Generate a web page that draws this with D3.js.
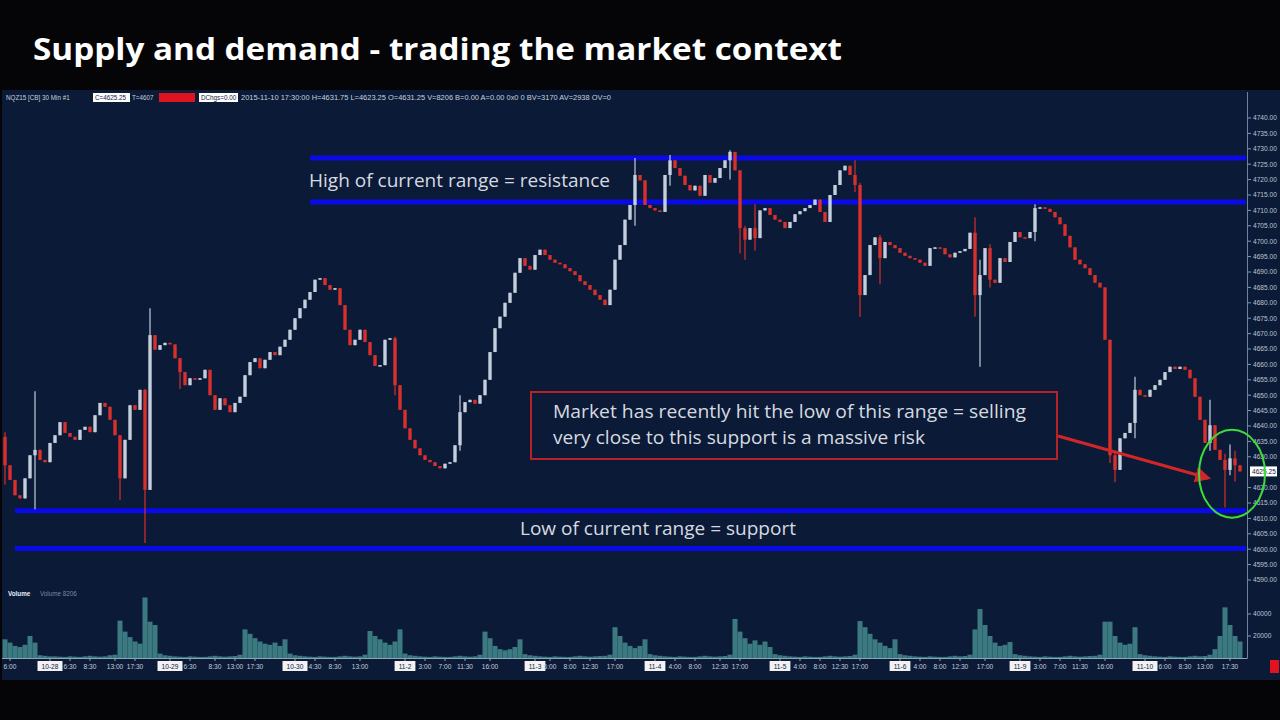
<!DOCTYPE html>
<html><head><meta charset="utf-8">
<script src="https://cdn.jsdelivr.net/npm/d3@7"></script>
<style>body{margin:0;background:#050507;} svg{display:block}</style>
</head><body><svg id="c" width="1280" height="720"></svg>
<script>
// ---------- DATA ----------
const titleText = "Supply and demand - trading the market context";
const firstOpen = 4636.5;
const closes = [
4627.25,4622.5,4617.5,4616.5,4623,4630.5,4632.25,4629,4628.25,4634.5,
4637,4641.25,4637.75,4636.5,4635.5,4638.75,4639.75,4638,4643.5,4647.5,
4646.25,4642,4637,4623,4635.5,4646.75,4645.25,4651.75,4619.25,4669.5,
4664.75,4666.25,4667,4666.5,4662,4657.5,4653.25,4655.5,4655,4655.5,
4658.25,4650,4645.25,4649,4646.75,4644.5,4647.5,4649.5,4656.5,4660.75,
4662,4658.75,4661.5,4664,4663,4665.75,4668,4671.25,4675,4678.25,
4681,4683.5,4687.5,4688,4685.75,4684.25,4684.75,4679.25,4671.25,4666.25,
4668,4671.25,4667.25,4663,4659.5,4659.75,4668,4668.5,4653.25,4645.25,
4639.25,4635.5,4632.75,4630.5,4629,4628.25,4627,4626.25,4627.75,4628.25,
4633.75,4644.5,4647.75,4648.5,4647.25,4650,4655,4664,4671.75,4675.5,
4680,4683.25,4689.75,4694.5,4692,4690.75,4695.5,4697.25,4695.5,4694,
4693,4692.5,4691.25,4690.25,4689,4687,4685.75,4684.25,4682.5,4681,
4679.25,4684.25,4694,4698.75,4707,4711.75,4721.5,4719.75,4711.75,4710.75,
4710,4709.5,4721.5,4726.25,4723.75,4721.25,4718.25,4716.5,4718,4714.75,
4721.5,4719,4720.5,4723.75,4726.25,4729,4723,4704.25,4700.5,4704.25,
4701,4710,4710.75,4708.5,4707,4706.25,4704.25,4706.25,4708.75,4709.75,
4710.75,4711.75,4713.5,4709.5,4706.25,4715,4718.25,4723,4724.5,4721.5,
4718.25,4682.5,4689,4698.75,4701.25,4694.5,4699.75,4698.75,4697.75,4696.25,
4695.25,4694.5,4694,4693,4692,4697.75,4698,4697.75,4695.75,4694.75,
4696.25,4696.75,4697.5,4702.75,4682.5,4689,4697.75,4687.5,4686.5,4694.5,
4693.25,4699.75,4703,4701.25,4701,4703,4710.75,4711,4710.5,4709.5,
4707.75,4705.5,4701.75,4698,4694,4692.5,4691.25,4689,4686.5,4685,
4668,4630.5,4625.75,4636,4637.75,4641,4651.75,4650,4649.5,4651.75,
4653.25,4655,4657.5,4659.25,4658.5,4659.25,4658.25,4655.5,4649.5,4642,
4634.5,4640.25,4632.25,4629,4625.75,4629.5,4627.25,4625.25
];
// [bar index, high, low] for bars with long wicks
const wicks = [
[0,4638,4621],[6,4651.25,4613],[23,4637,4616],[28,4652,4602],[29,4678.25,4650],
[35,4662,4652],[78,4669,4650],[91,4650,4632],[126,4727,4705],[133,4728,4718],
[145,4729.5,4720],[147,4723,4696],[148,4705,4694],[150,4712,4697],[170,4726.25,4716],
[171,4719,4675.5],[175,4702,4686],[194,4707.75,4675.5],[195,4694,4659.25],
[197,4699,4685],[206,4712,4700],[221,4668,4628],[222,4632,4621.75],[226,4656,4636],
[241,4648.5,4632],[244,4631,4613.5],[245,4634,4624],[246,4632,4622]
];
const volumes = [
17000,14000,11000,10000,12000,20000,14000,
2500,2000,1500,1500,1200,1000,1500,1200,1000,1500,2000,1500,1200,1500,2500,
3000,34000,24000,19000,15000,13000,55000,33000,30000,
4000,2500,2000,1500,1200,1000,1500,1200,1000,1000,1500,2000,1500,1200,1500,1800,3000,
26000,22000,18000,15000,13000,12000,14000,11000,17000,
4000,2500,2000,1500,1200,1000,1500,1200,1000,1000,1500,2000,1500,1200,1500,3000,
24500,20000,17000,14000,12000,15000,26000,
4000,2500,2000,1500,1200,1000,1500,1200,1000,1000,1500,2000,1500,1200,1500,3000,
24000,18000,11000,8000,7000,8000,10000,17000,
3500,2500,2000,1500,1200,1000,1500,1200,1000,1000,1500,2000,1500,1200,1500,1800,2000,3000,
28000,20000,14000,11000,9000,11000,17000,
3500,2500,2000,1500,1200,1000,1500,1200,1000,1000,1500,2000,1500,1200,1500,1800,3000,
35500,24000,18000,13000,16000,12000,15000,10000,
3500,2500,2000,1500,1200,1000,1500,1200,1000,1000,1500,2000,1500,1200,1500,1800,3000,
33600,28000,22000,17000,14000,11000,9000,17000,
3500,2500,2000,1500,1200,1000,1500,1200,1000,1000,1500,2000,1500,1800,3000,
26000,44500,30000,20000,14000,11000,12000,14500,
3500,2500,2000,1500,1200,1000,1500,1200,1000,1000,1500,2000,1500,1200,1500,1800,2000,3000,
33000,33000,20000,14000,12000,13000,28000,
3500,2500,2000,1500,1200,1000,1500,1200,1000,1000,1500,2000,1500,1800,3000,8000,
20000,46000,30000,20000,15000
];
const priceTicks = [4740,4735,4730,4725,4720,4715,4710,4705,4700,4695,4690,4685,4680,4675,4670,4665,4660,4655,4650,4645,4640,4635,4630,4620,4615,4610,4605,4600,4595,4590];
const volumeTicks = [40000,20000];
const currentPrice = 4625.25;
// [bar index, label, isDate]
const timeLabels = [
[1,"6:00",0],[9,"10-28",1],[13,"6:30",0],[17,"8:30",0],[22,"13:00",0],[26,"17:30",0],
[33,"10-29",1],[37,"6:30",0],[42,"8:30",0],[46,"13:00",0],[50,"17:30",0],
[58,"10-30",1],[62,"4:30",0],[66,"8:30",0],[71,"13:00",0],
[80,"11-2",1],[84,"3:00",0],[88,"7:00",0],[92,"11:30",0],[97,"16:00",0],
[106,"11-3",1],[109,"6:00",0],[113,"8:00",0],[117,"12:30",0],[122,"17:00",0],
[130,"11-4",1],[134,"4:00",0],[138,"8:00",0],[143,"12:30",0],[147,"17:00",0],
[155,"11-5",1],[159,"4:00",0],[163,"8:00",0],[167,"12:30",0],[171,"17:00",0],
[179,"11-6",1],[183,"4:00",0],[187,"8:00",0],[191,"12:30",0],[196,"17:00",0],
[203,"11-9",1],[207,"3:00",0],[211,"7:00",0],[215,"11:30",0],[220,"16:00",0],
[228,"11-10",1],[232,"6:00",0],[236,"8:30",0],[240,"13:00",0],[245,"17:30",0]
];
// zones: [price, startBar]
const resistanceLevels = [4727, 4712.75];
const supportLevels = [4612.5, 4600.25];
const resistanceStart = 61, supportStart = 2;
const labelResistance = "High of current range = resistance";
const labelSupport = "Low of current range = support";
const noteLines = ["Market has recently hit the low of this range = selling","very close to this support is a massive risk"];
const headerText = "2015-11-10 17:30:00  H=4631.75  L=4623.25  O=4631.25  V=8206  B=0.00  A=0.00  0x0  0  BV=3170  AV=2938  OV=0";

// ---------- DRAW ----------
const svg = d3.select("#c");
const BG = "#0b1a36";
svg.append("rect").attr("width",1280).attr("height",720).attr("fill","#050507");
svg.append("rect").attr("x",2).attr("y",90).attr("width",1278).attr("height",590).attr("fill",BG);

const n = closes.length;
const x = d3.scaleLinear().domain([0, n-1]).range([5, 5+5*(n-1)]);
const y = d3.scaleLinear().domain([4600, 4740]).range([549.2, 118]);
const yv = d3.scaleLinear().domain([0, 40000]).range([658, 614]);

// title
svg.append("text").attr("x",33).attr("y",60).text(titleText)
  .attr("font-family","Open Sans, sans-serif").attr("font-weight",700).attr("font-size",31)
  .attr("fill","#ffffff").attr("textLength",809).attr("lengthAdjust","spacingAndGlyphs");

// header bar
const hdr = svg.append("g").attr("font-family","Liberation Sans, Arial, sans-serif").attr("font-size",6.3).attr("fill","#c8d0dc");
hdr.append("text").attr("x",6).attr("y",100).text("NQZ15 [CB]  30 Min   #1");
hdr.append("rect").attr("x",93).attr("y",93).attr("width",37).attr("height",9).attr("fill","#ffffff");
hdr.append("text").attr("x",95).attr("y",100).attr("fill","#102040").text("C=4625.25");
hdr.append("text").attr("x",132).attr("y",100).text("T=4607");
hdr.append("rect").attr("x",159).attr("y",93).attr("width",36).attr("height",9).attr("fill","#e0141e");
hdr.append("rect").attr("x",199).attr("y",93).attr("width",39).attr("height",9).attr("fill","#ffffff");
hdr.append("text").attr("x",201).attr("y",100).attr("fill","#102040").text("DChgs=0.00");
hdr.append("text").attr("x",241).attr("y",100).text(headerText).attr("textLength",370).attr("lengthAdjust","spacingAndGlyphs");

// volume label
svg.append("text").attr("x",8).attr("y",596).attr("font-family","Liberation Sans, Arial, sans-serif").attr("font-size",6.3)
  .attr("fill","#e8eef5").attr("font-weight",700).text("Volume");
svg.append("text").attr("x",40).attr("y",596).attr("font-family","Liberation Sans, Arial, sans-serif").attr("font-size",6.3)
  .attr("fill","#7a8aa0").text("Volume 8206");

// volume bars
svg.append("g").selectAll("rect").data(volumes).join("rect")
  .attr("x",(d,i)=>x(i)-2.5).attr("width",5).attr("y",d=>yv(d)).attr("height",d=>yv(0)-yv(d))
  .attr("fill","#3f7f86").attr("opacity",0.95);

// support / resistance lines
const zoneG = svg.append("g");
resistanceLevels.forEach(p=>zoneG.append("line").attr("x1",x(resistanceStart)).attr("x2",1246)
  .attr("y1",y(p)).attr("y2",y(p)).attr("stroke","#0a0ae6").attr("stroke-width",5));
supportLevels.forEach(p=>zoneG.append("line").attr("x1",x(supportStart)).attr("x2",1246)
  .attr("y1",y(p)).attr("y2",y(p)).attr("stroke","#0a0ae6").attr("stroke-width",5));

// candles
const bars = closes.map((c,i)=>{
  const o = i===0 ? firstOpen : closes[i-1];
  const w = wicks.find(d=>d[0]===i);
  return {i, o, c, h: w ? Math.max(w[1],o,c) : Math.max(o,c), l: w ? Math.min(w[2],o,c) : Math.min(o,c)};
});
const UP = "#c3cfdc", DN = "#d8302c";
const cg = svg.append("g");
cg.selectAll("line").data(bars).join("line")
  .attr("x1",d=>x(d.i)).attr("x2",d=>x(d.i)).attr("y1",d=>y(d.h)).attr("y2",d=>y(d.l))
  .attr("stroke",d=>d.c>=d.o?UP:DN).attr("stroke-width",1.2);
cg.selectAll("rect").data(bars).join("rect")
  .attr("x",d=>x(d.i)-1.7).attr("width",3.4)
  .attr("y",d=>y(Math.max(d.o,d.c))).attr("height",d=>Math.max(1.5, Math.abs(y(d.o)-y(d.c))))
  .attr("fill",d=>d.c>=d.o?UP:DN);

// right axis
const ax = svg.append("g").attr("font-family","Liberation Sans, Arial, sans-serif").attr("font-size",6.6).attr("fill","#b9c5d3");
ax.append("line").attr("x1",1247.5).attr("x2",1247.5).attr("y1",92).attr("y2",658).attr("stroke","#6f8299").attr("stroke-width",1);
priceTicks.forEach(p=>{
  ax.append("line").attr("x1",1247.5).attr("x2",1251).attr("y1",y(p)).attr("y2",y(p)).attr("stroke","#8a9ab0");
  ax.append("text").attr("x",1253).attr("y",y(p)+2.3).text(p.toFixed(2));
});
volumeTicks.forEach(v=>{
  ax.append("line").attr("x1",1247.5).attr("x2",1251).attr("y1",yv(v)).attr("y2",yv(v)).attr("stroke","#8a9ab0");
  ax.append("text").attr("x",1253).attr("y",yv(v)+2.3).text(v);
});
ax.append("rect").attr("x",1250).attr("y",y(currentPrice)-5).attr("width",27).attr("height",10).attr("fill","#ffffff");
ax.append("text").attr("x",1252).attr("y",y(currentPrice)+2.3).attr("fill","#102040").text(currentPrice.toFixed(2));

// bottom axis
const bx = svg.append("g").attr("font-family","Liberation Sans, Arial, sans-serif").attr("font-size",6.6).attr("fill","#c4ced9");
bx.append("line").attr("x1",2).attr("x2",1247.5).attr("y1",658.5).attr("y2",658.5).attr("stroke","#8fa3b8").attr("stroke-width",1.2);
timeLabels.forEach(([i,t,isDate])=>{
  const cx = x(i);
  bx.append("line").attr("x1",cx).attr("x2",cx).attr("y1",658).attr("y2",661).attr("stroke","#8fa3b8");
  if(isDate){
    const w = t.length*4.2+4;
    bx.append("rect").attr("x",cx-w/2).attr("y",661).attr("width",w).attr("height",10).attr("fill","#f2f2f2");
    bx.append("text").attr("x",cx).attr("y",668.5).attr("text-anchor","middle").attr("fill","#102040").text(t);
  } else {
    bx.append("text").attr("x",cx).attr("y",668.5).attr("text-anchor","middle").text(t);
  }
});
svg.append("rect").attr("x",1270).attr("y",660).attr("width",9).attr("height",13).attr("fill","#e0141e");

// annotation texts
const ann = svg.append("g").attr("font-family","Open Sans, sans-serif").attr("font-size",17.5).attr("fill","#d6dae0");
ann.append("text").attr("x",309).attr("y",187).text(labelResistance).attr("textLength",301).attr("lengthAdjust","spacingAndGlyphs");
ann.append("text").attr("x",520).attr("y",535).text(labelSupport).attr("textLength",276).attr("lengthAdjust","spacingAndGlyphs");
svg.append("rect").attr("x",531).attr("y",392).attr("width",526).attr("height",67).attr("fill","none")
  .attr("stroke","#b82226").attr("stroke-width",2);
ann.append("text").attr("x",553).attr("y",418).text(noteLines[0]).attr("textLength",473).attr("lengthAdjust","spacingAndGlyphs");
ann.append("text").attr("x",553).attr("y",444).text(noteLines[1]).attr("textLength",372).attr("lengthAdjust","spacingAndGlyphs");

// arrow
svg.append("defs").append("marker").attr("id","ah").attr("viewBox","0 0 10 10").attr("refX",8).attr("refY",5)
  .attr("markerWidth",5).attr("markerHeight",5).attr("orient","auto")
  .append("path").attr("d","M0,0 L10,5 L0,10 z").attr("fill","#d0262a");
svg.append("line").attr("x1",1058).attr("y1",436).attr("x2",1208).attr("y2",478)
  .attr("stroke","#d0262a").attr("stroke-width",3.2).attr("marker-end","url(#ah)");

// green ellipse
svg.append("ellipse").attr("cx",x(n-3)+2).attr("cy",y(4625.5)+3).attr("rx",33).attr("ry",44)
  .attr("fill","none").attr("stroke","#3ddc3a").attr("stroke-width",2);
</script></body></html>
